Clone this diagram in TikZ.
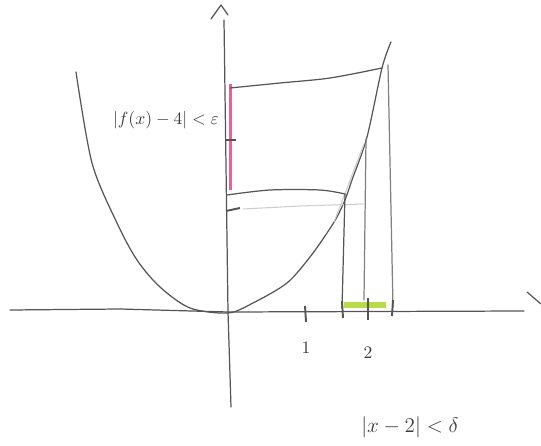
\documentclass[tikz,border=0pt]{standalone}
\usetikzlibrary{positioning}
\definecolor{pencil}{RGB}{85,85,85}
\definecolor{markerpink}{RGB}{236,96,150}
\definecolor{markergreen}{RGB}{184,220,72}
\tikzset{%
pencil line/.style={draw=pencil, line width=0.7pt, line cap=round, line join=round},
light line/.style={pencil line, draw=pencil!75},
faint line/.style={draw=pencil!30, line width=0.6pt, line cap=round},
tick mark/.style={draw=pencil, line width=1.1pt},
hand label/.style={text=pencil!70!black, inner sep=1pt},
}

\begin{document}
\begin{tikzpicture}[x=0.02cm, y=-0.02cm]
\useasboundingbox (0,0) rectangle (541,446);

% marker highlights
\draw[markerpink, line width=0.065cm] (230.5,84) -- (230.5,190);
\draw[markergreen, line width=0.12cm] (344,305) -- (386,305);

% axes
\coordinate (O) at (228,312);
\draw[pencil line] (10,310) -- (120,309) -- (O) -- (524,311);
\draw[pencil line] (527,292) -- (541,304);
\draw[pencil line] (224,20) -- (O) -- (231,407);
\draw[pencil line] (211,19) -- (221,5) -- (228,15);

% the parabola
\draw[pencil line] plot[smooth] coordinates {(76,72) (92,163) (117,223) (137,260) (160,287) (190,308) (228,313) (253,303) (287,283) (310,257) (327,233) (337,217) (345,200) (352,180) (367,137) (382,68) (391,42)};
\draw[faint line] (334,222) -- (364,144);

% epsilon band
\coordinate (eps-top) at (382,68);
\coordinate (eps-low) at (345,194);
\coordinate (mid-pt) at (366,139);
\draw[pencil line] plot[smooth] coordinates {(230,88) (280,83) (330,78) (eps-top)};
\draw[pencil line] plot[smooth] coordinates {(227,195) (270,190) (320,190) (eps-low)};
\draw[faint line] (243,209) -- (300,206) -- (363,204);

% delta band
\draw[pencil line] (eps-low) -- (342,308);
\draw[light line] (mid-pt) -- (364,300);
\draw[light line] (388,65) -- (393,307);

% ticks
\draw[tick mark] (226,140) -- (236,140);
\draw[tick mark] (226,211) -- (240,208);
\draw[tick mark] (305,306) -- (306,322) coordinate (t1);
\draw[tick mark] (342,301) -- (343,318);
\draw[tick mark] (368,298) -- (368,320) coordinate (t2);
\draw[tick mark] (393,300) -- (392,316);

% labels
\node[hand label] (eps-label) at (166,120) {$|f(x)-4|<\varepsilon$};
\node[hand label, below=0.36cm of t1] (one-label) {$1$};
\node[hand label, below=0.5cm of t2] (two-label) {$2$};
\node[hand label, font=\large] (delta-label) at (410,427) {$|x-2|<\delta$};
\end{tikzpicture}
\end{document}
